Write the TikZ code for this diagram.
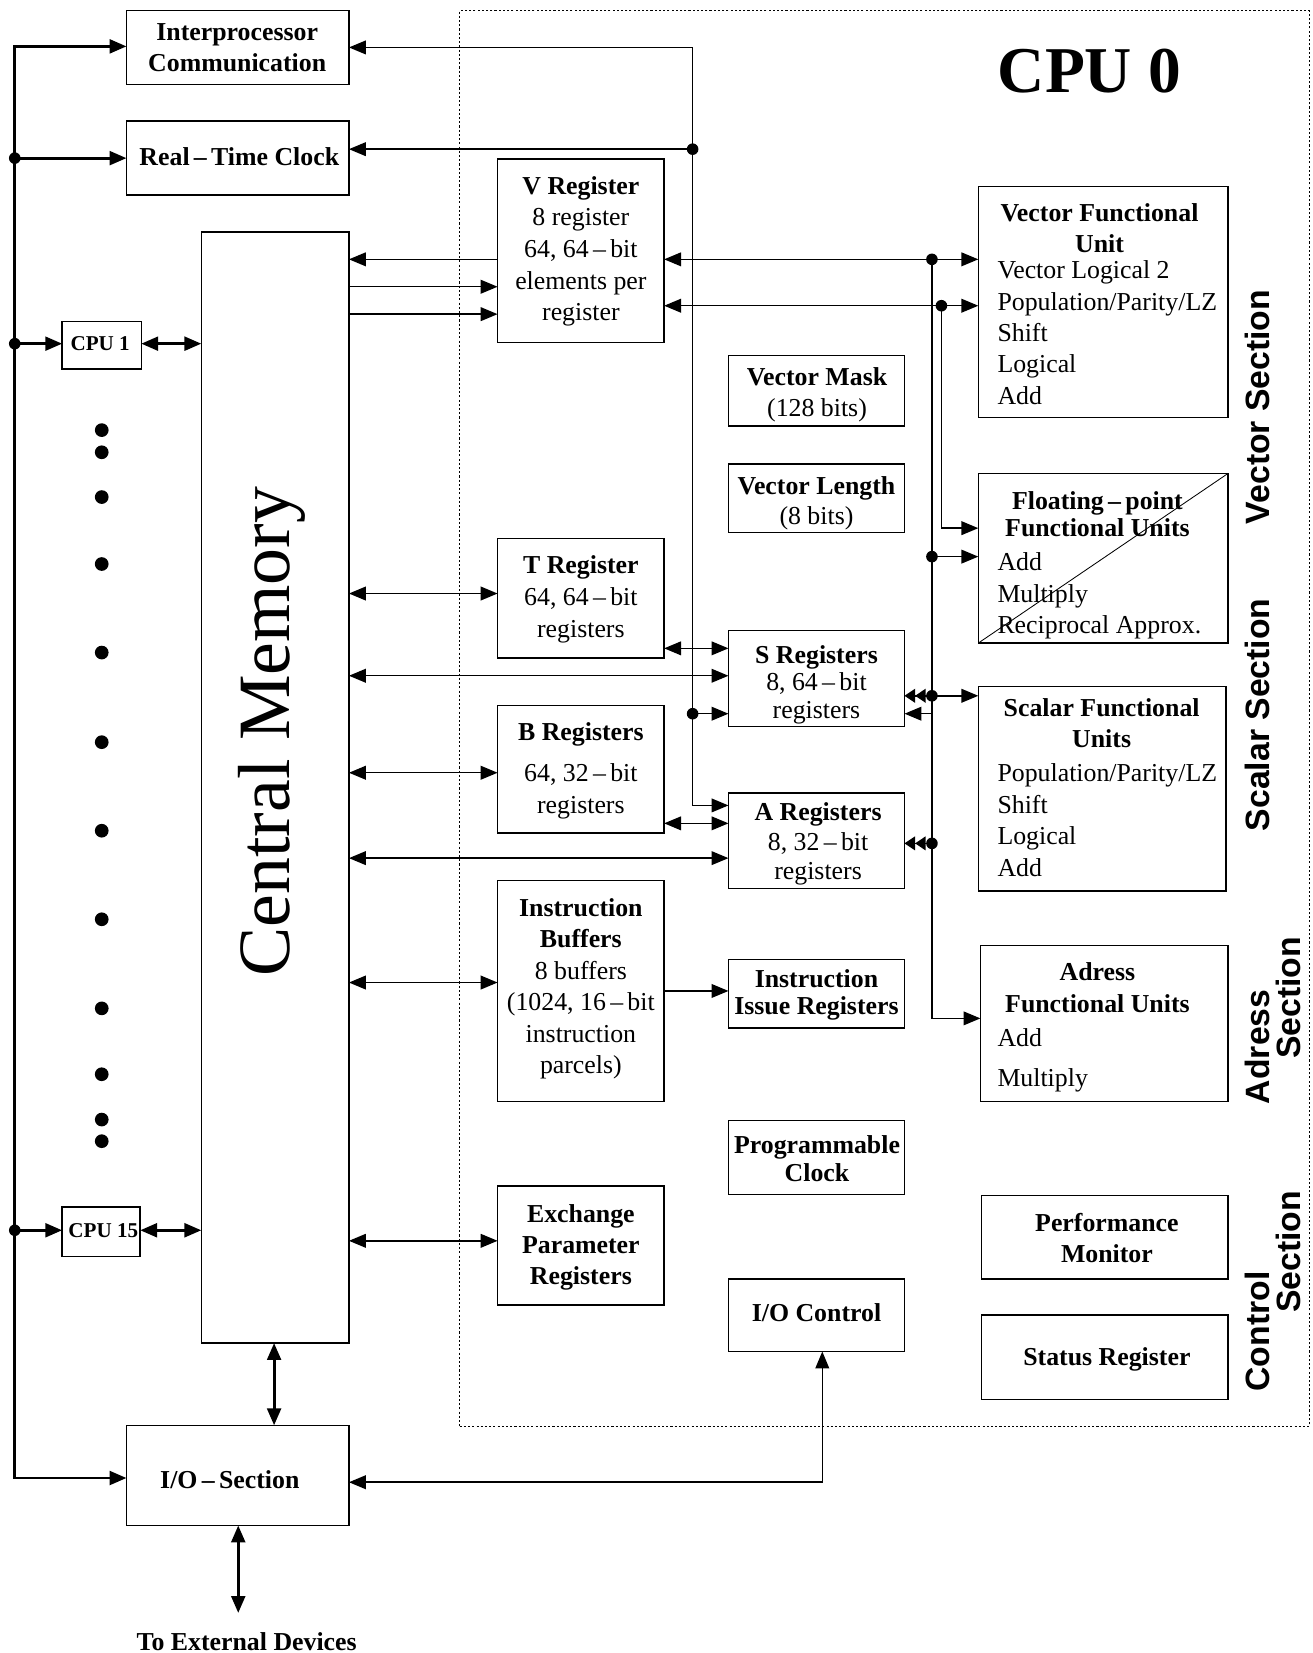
\documentclass[tikz,border=0pt]{standalone}
\usepackage{fontspec}
\setmainfont{Liberation Serif}
\newfontfamily\secfont{Liberation Sans}
\usetikzlibrary{arrows.meta}
\newcommand\mydash{\,--\,}
\begin{document}
\begin{tikzpicture}[x=1pt,y=-1pt,
  >={Triangle[length=16pt,width=13pt]},
  bx/.style={draw,line width=1.4pt,inner sep=0pt,outer sep=0pt},
  conn/.style={line width=1.4pt},
  bus/.style={line width=2.8pt},
  dblin/.style={line width=1.4pt, arrows={Triangle[length=10pt,width=13pt] Triangle[length=10pt,width=13pt]-}},
  txt/.style={inner sep=0pt, align=center, font=\fontsize{24.5}{30}\selectfont},
  btxt/.style={inner sep=0pt, align=center, font=\fontsize{24.5}{30}\selectfont\bfseries},
  ltxt/.style={inner sep=0pt, align=left, anchor=west, font=\fontsize{24.5}{30}\selectfont},
  sec/.style={inner sep=0pt, rotate=90, font=\fontsize{32}{36}\selectfont\secfont\bfseries},
  region/.style={draw, dash pattern=on 2pt off 2pt, line width=1.2pt, inner sep=0pt}
]
\useasboundingbox (0,0) rectangle (1245,1568);

% CPU 0 region
\node[region, minimum width=806pt, minimum height=1343pt] (cpu0) at (839,681.5) {};
\node[inner sep=0pt, font=\fontsize{62}{70}\selectfont\bfseries] (t-cpu0) at (1033.5,67) {CPU 0};

% boxes
\node[bx, minimum width=211pt, minimum height=70pt] (ipc) at (225.5,45) {};
\node[bx, minimum width=211pt, minimum height=70pt] (rtc) at (225.5,150) {};
\node[bx, minimum width=140pt, minimum height=1054pt] (cm) at (261,747) {};
\node[bx, minimum width=75pt, minimum height=45pt] (cpu1) at (96.5,327.5) {};
\node[bx, minimum width=74pt, minimum height=47pt] (cpu15) at (96,1168.5) {};
\node[bx, minimum width=158pt, minimum height=174pt] (vreg) at (551,238) {};
\node[bx, minimum width=237pt, minimum height=219pt] (vfu) at (1046.5,286.5) {};
\node[bx, minimum width=167pt, minimum height=67pt] (vmask) at (774.5,370.5) {};
\node[bx, minimum width=167pt, minimum height=65pt] (vlen) at (774.5,472.5) {};
\node[bx, minimum width=237pt, minimum height=161pt] (fpu) at (1046.5,529.5) {};
\node[bx, minimum width=158pt, minimum height=113pt] (treg) at (551,567.5) {};
\node[bx, minimum width=167pt, minimum height=91pt] (sreg) at (774.5,643.5) {};
\node[bx, minimum width=235pt, minimum height=194pt] (sfu) at (1045.5,748) {};
\node[bx, minimum width=158pt, minimum height=121pt] (breg) at (551,729.5) {};
\node[bx, minimum width=167pt, minimum height=91pt] (areg) at (774.5,797.5) {};
\node[bx, minimum width=158pt, minimum height=210pt] (ibuf) at (551,940) {};
\node[bx, minimum width=167pt, minimum height=65pt] (iir) at (774.5,942.5) {};
\node[bx, minimum width=235pt, minimum height=148pt] (afu) at (1047.5,971) {};
\node[bx, minimum width=167pt, minimum height=70pt] (pclk) at (774.5,1098) {};
\node[bx, minimum width=234pt, minimum height=79pt] (perf) at (1048,1173.5) {};
\node[bx, minimum width=234pt, minimum height=80pt] (status) at (1048,1287.5) {};
\node[bx, minimum width=158pt, minimum height=113pt] (epr) at (551,1181.5) {};
\node[bx, minimum width=167pt, minimum height=69pt] (ioc) at (774.5,1247.5) {};
\node[bx, minimum width=211pt, minimum height=95pt] (ios) at (225.5,1399.5) {};

% texts
\node[btxt, font=\fontsize{24.5}{29}\selectfont\bfseries] (t-ipc) at (225,45.5) {Interprocessor\\Communication};
\node[btxt] (t-rtc) at (227,149) {Real\mydash Time Clock};
\node[inner sep=0pt, rotate=90, font=\fontsize{70}{80}\selectfont] (t-cm) at (258,694) {Central Memory};
\node[btxt, font=\fontsize{20}{24}\selectfont\bfseries] (t-cpu1) at (95,326) {CPU 1};
\node[btxt, font=\fontsize{20}{24}\selectfont\bfseries] (t-cpu15) at (98,1167) {CPU 15};
\node[txt] (t-vreg) at (551,238.5) {\textbf{V Register}\\8 register\\64, 64\mydash bit\\elements per\\register};
\node[btxt, font=\fontsize{24.5}{29}\selectfont\bfseries] (t-vfu) at (1043,216.5) {Vector Functional\\Unit};
\node[ltxt, font=\fontsize{24.5}{29.75}\selectfont] (l-vfu) at (946,315.5) {Vector Logical 2\\Population/Parity/LZ\\Shift\\Logical\\Add};
\node[txt] (t-vmask) at (775,374.5) {\textbf{Vector Mask}\\(128 bits)};
\node[txt, font=\fontsize{24.5}{28}\selectfont] (t-vlen) at (774.5,477.5) {\textbf{Vector Length}\\(8 bits)};
\node[btxt, font=\fontsize{24.5}{26}\selectfont\bfseries] (t-fpu) at (1041,488) {Floating\mydash point\\Functional Units};
\node[ltxt] (l-fpu) at (946,565.5) {Add\\Multiply\\Reciprocal Approx.};
\node[txt] (t-treg) at (551,568.5) {\textbf{T Register}\\64, 64\mydash bit\\registers};
\node[txt, font=\fontsize{24.5}{26}\selectfont] (t-sreg) at (774.5,649.5) {\textbf{S Registers}\\8, 64\mydash bit\\registers};
\node[btxt] (t-sfu) at (1045,686) {Scalar Functional\\Units};
\node[ltxt] (l-sfu) at (946,778) {Population/Parity/LZ\\Shift\\Logical\\Add};
\node[txt] (t-breg) at (551,731) {\textbf{B Registers}\\[9pt]64, 32\mydash bit\\registers};
\node[txt, font=\fontsize{24.5}{28}\selectfont] (t-areg) at (776,800.5) {\textbf{A Registers}\\8, 32\mydash bit\\registers};
\node[txt, font=\fontsize{24.5}{29.8}\selectfont] (t-ibuf) at (551,938) {\textbf{Instruction}\\\textbf{Buffers}\\8 buffers\\(1024, 16\mydash bit\\instruction\\parcels)};
\node[btxt, font=\fontsize{24.5}{26}\selectfont\bfseries] (t-iir) at (774.5,943.5) {Instruction\\Issue Registers};
\node[btxt] (t-afu) at (1041,937) {Adress\\Functional Units};
\node[ltxt] (l-afu) at (946,1005.5) {Add\\[8pt]Multiply};
\node[btxt, font=\fontsize{24.5}{26}\selectfont\bfseries] (t-pclk) at (775,1099) {Programmable\\Clock};
\node[btxt, font=\fontsize{24.5}{29}\selectfont\bfseries] (t-perf) at (1050,1174.5) {Performance\\Monitor};
\node[btxt] (t-status) at (1050,1289) {Status Register};
\node[btxt, font=\fontsize{24.5}{29.5}\selectfont\bfseries] (t-epr) at (551,1183) {Exchange\\Parameter\\Registers};
\node[btxt] (t-ioc) at (774.5,1245) {I/O Control};
\node[btxt] (t-ios) at (218,1404) {I/O\mydash Section};
\node[btxt] (t-ext) at (234,1557) {To External Devices};

% section labels
\node[sec] (s-vec) at (1192.5,386) {Vector Section};
\node[sec] (s-sca) at (1192.5,678) {Scalar Section};
\node[sec] (s-adr1) at (1192.5,993) {Adress};
\node[sec] (s-adr2) at (1222,946.5) {Section};
\node[sec] (s-con1) at (1192.5,1263) {Control};
\node[sec] (s-con2) at (1222,1187.5) {Section};

% CPU dots
\foreach \yy in {408,429,471.5,535,619,704,788,872,956.5,1019,1062,1082.5}
  \fill (96.5,\yy) circle (6.5pt);

% diagonal in floating point box
\draw[line width=0.8pt] (fpu.south west) -- (fpu.north east);

% left bus
\coordinate (bus-top) at (14,44);
\coordinate (bus-bot) at (14,1402);
\coordinate (j-rtc) at (14,150);
\coordinate (j-cpu1) at (14,326);
\coordinate (j-cpu15) at (14,1167);
\draw[bus,<->] (ipc.west |- bus-top) -- (bus-top) -- (bus-bot) -- (ios.west |- bus-bot);
\draw[bus,->] (j-rtc) -- (rtc.west |- j-rtc);
\draw[bus,->] (j-cpu1) -- (cpu1.west |- j-cpu1);
\draw[bus,->] (j-cpu15) -- (cpu15.west |- j-cpu15);
\draw[bus,<->] (cpu1.east |- j-cpu1) -- (cm.west |- j-cpu1);
\draw[bus,<->] (cpu15.east |- j-cpu15) -- (cm.west |- j-cpu15);
\foreach \c in {j-rtc,j-cpu1,j-cpu15} \fill (\c) circle (5.5pt);
\draw[bus,<->] (cm.south -| 260,0) -- (ios.north -| 260,0);
\coordinate (ext-end) at (226,1530);
\draw[bus,<->] (ios.south -| ext-end) -- (ext-end);

% line at x=657
\coordinate (v-top) at (657,45);
\coordinate (v-bot) at (657,764);
\coordinate (j-rtc2) at (657,141.5);
\coordinate (j-s2) at (657,677);
\draw[conn,<->] (ipc.east |- v-top) -- (v-top) -- (v-bot) -- (areg.west |- v-bot);
\draw[conn,->] (j-rtc2) -- (rtc.east |- j-rtc2);
\draw[conn,->] (j-s2) -- (sreg.west |- j-s2);
\fill (j-rtc2) circle (5.5pt);
\fill (j-s2) circle (5.5pt);

% central memory <-> V register
\draw[conn,<-] (cm.east |- 0,246) -- (vreg.west |- 0,246);
\draw[conn,->] (cm.east |- 0,272) -- (vreg.west |- 0,272);
\draw[conn,->] (cm.east |- 0,298) -- (vreg.west |- 0,298);

% V register <-> functional units
\coordinate (j-v1) at (884,246);
\coordinate (j-v2) at (893,290);
\coordinate (c-fp) at (893,501);
\coordinate (c-af) at (884,966);
\coordinate (j-fp) at (884,528);
\coordinate (j-s) at (884,660);
\coordinate (c-s) at (884,677);
\coordinate (j-a) at (884,800);
\draw[conn,<->] (vreg.east |- j-v1) -- (vfu.west |- j-v1);
\draw[conn,<->] (vreg.east |- j-v2) -- (vfu.west |- j-v2);
\draw[conn,->] (j-v2) -- (c-fp) -- (fpu.west |- c-fp);
\draw[conn,->] (j-v1) -- (c-af) -- (afu.west |- c-af);
\draw[conn,->] (j-fp) -- (fpu.west |- j-fp);
\draw[conn,->] (j-s) -- (sfu.west |- j-s);
\draw[dblin] (sreg.east |- j-s) -- (j-s);
\draw[conn,<-] (sreg.east |- c-s) -- (c-s);
\draw[dblin] (areg.east |- j-a) -- (j-a);
\foreach \c in {j-v1,j-v2,j-fp,j-s,j-a} \fill (\c) circle (5.5pt);

% central memory <-> registers
\draw[conn,<->] (cm.east |- 0,563) -- (treg.west |- 0,563);
\draw[conn,<->] (treg.east |- 0,615) -- (sreg.west |- 0,615);
\draw[conn,<->] (cm.east |- 0,641) -- (sreg.west |- 0,641);
\draw[conn,<->] (cm.east |- 0,733) -- (breg.west |- 0,733);
\draw[conn,<->] (breg.east |- 0,781) -- (areg.west |- 0,781);
\draw[conn,<->] (cm.east |- 0,814) -- (areg.west |- 0,814);
\draw[conn,<->] (cm.east |- 0,932) -- (ibuf.west |- 0,932);
\draw[conn,->] (ibuf.east |- 0,940) -- (iir.west |- 0,940);
\draw[conn,<->] (cm.east |- 0,1177) -- (epr.west |- 0,1177);

% I/O
\coordinate (c-io) at (780,1406);
\draw[conn,<->] (ios.east |- c-io) -- (c-io) -- (ioc.south -| c-io);
\end{tikzpicture}
\end{document}
